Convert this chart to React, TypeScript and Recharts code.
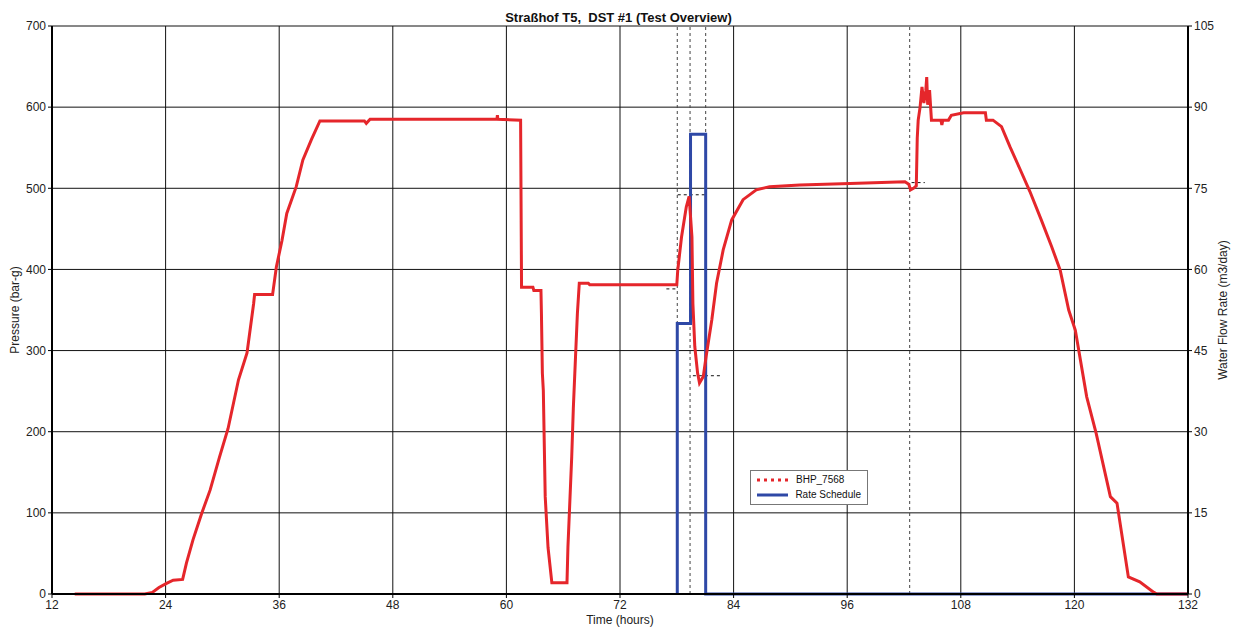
import {
  ComposedChart, Line, XAxis, YAxis, CartesianGrid, ReferenceLine, Label,
} from "recharts";

// bottom-hole pressure, [hours, bar-g]
const BHP_POINTS: [number, number][] = [
  [14.4, 0], [21.8, 0], [22.6, 2], [23.3, 8], [24.1, 13], [24.8, 17], [25.8, 18],
  [26.2, 38], [26.9, 67], [27.8, 99], [28.7, 128], [29.7, 169], [30.6, 204], [31.7, 264],
  [32.6, 297], [33.3, 358], [33.4, 369], [35.3, 369], [35.7, 403], [36.3, 436], [36.8, 469],
  [37.8, 502], [38.5, 535], [39.4, 560], [40.3, 583],
  [45, 583], [45.2, 580], [45.6, 585], [59, 585], [59.05, 590], [59.1, 585], [61.5, 584],
  [61.6, 378], [62.8, 378], [62.9, 374], [63.65, 374], [63.7, 346], [63.8, 272], [63.9, 251],
  [64.1, 120], [64.4, 57], [64.8, 14], [66.4, 14], [66.5, 58], [66.9, 169], [67.07, 229],
  [67.3, 292], [67.5, 346], [67.7, 383], [68.65, 383], [68.8, 381], [78.0, 381],
  [78.1, 399], [78.5, 440], [79.0, 477], [79.3, 490], [79.6, 440], [79.7, 358], [79.9, 305],
  [80.2, 272], [80.4, 260], [80.8, 268], [81.1, 293], [81.7, 338], [82.2, 383], [82.9, 424],
  [83.8, 461], [85.0, 486], [86.4, 498], [87.8, 502], [91, 504], [96.3, 506], [102.1, 508],
  [102.5, 505], [102.7, 498], [103.0, 500], [103.3, 503], [103.4, 562], [103.5, 584],
  [103.7, 600], [103.9, 625], [104.1, 605], [104.3, 620], [104.4, 637], [104.5, 603],
  [104.7, 621], [104.9, 584], [105.9, 584], [106.0, 578], [106.1, 584], [106.7, 584],
  [107.0, 590], [108.3, 593], [110.6, 593], [110.7, 584], [111.4, 584], [112.3, 576],
  [113.2, 551], [114.2, 525], [115.3, 496], [116.5, 461], [117.6, 428], [118.5, 399],
  [119.4, 350], [120.1, 325], [121.3, 243], [122.3, 198], [123.8, 120], [124.5, 112],
  [125.7, 21], [126.9, 15], [128.4, 2], [128.7, 0], [132, 0],
];

// water rate schedule, [hours, m3/day]
const RATE_POINTS: [number, number][] = [
  [78.05, 0], [78.05, 50], [79.45, 85], [81.05, 0], [132, 0],
];

// flow period boundaries (hours)
const PERIOD_MARKERS = [78.05, 79.4, 81.05, 102.6];

// short dashed level markers: [from h, to h, bar]
const LEVEL_MARKS: [number, number, number][] = [
  [76.9, 78.1, 376], [78.1, 81.0, 492], [79.7, 82.6, 269], [102.8, 104.2, 507],
];

const TIME_TICKS = [12, 24, 36, 48, 60, 72, 84, 96, 108, 120, 132];
const PRESSURE_TICKS = [0, 100, 200, 300, 400, 500, 600, 700];
const RATE_TICKS = [0, 15, 30, 45, 60, 75, 90, 105];

const bhpData = BHP_POINTS.map(([t, p]) => ({ t, p }));
const rateData = RATE_POINTS.map(([t, q]) => ({ t, q }));

const RED = "#e5262b";
const BLUE = "#2e48a6";
const FONT = "'Liberation Sans', Arial, sans-serif";
const tickStyle = { fontSize: 12, fill: "#222", fontFamily: FONT };

const LEGEND_ITEMS = [
  { name: "BHP_7568", color: RED, dash: "3 4" },
  { name: "Rate Schedule", color: BLUE, dash: undefined },
];

function LegendBox() {
  return (
    <div style={{
      position: "absolute", left: 750, top: 470, width: 104, height: 31,
      border: "1px solid #777", background: "#fff", padding: "1px 6px",
      fontFamily: FONT, fontSize: 10, color: "#111", whiteSpace: "nowrap",
    }}>
      {LEGEND_ITEMS.map((it) => (
        <div key={it.name} style={{ display: "flex", alignItems: "center", height: 15 }}>
          <svg width={32} height={6} style={{ marginRight: 7 }}>
            <line x1={0} y1={3} x2={32} y2={3} stroke={it.color} strokeWidth={3}
              strokeDasharray={it.dash} />
          </svg>
          {it.name}
        </div>
      ))}
    </div>
  );
}

export default function App() {
  return (
    <div style={{ position: "absolute", left: 0, top: 0, width: 1237, height: 628, background: "#fff" }}>
      <div style={{
        position: "absolute", left: 0, width: 1237, top: 10, textAlign: "center",
        fontFamily: FONT, fontWeight: "bold", fontSize: 13, color: "#111", whiteSpace: "pre",
      }}>
        {"Straßhof T5,  DST #1 (Test Overview)"}
      </div>
      <ComposedChart width={1237} height={628} margin={{ top: 26, right: 0, bottom: 0, left: 0 }}>
        <CartesianGrid yAxisId="left" stroke="#111" strokeWidth={1} />
        <XAxis
          type="number" dataKey="t" domain={[12, 132]} ticks={TIME_TICKS}
          allowDuplicatedCategory={false} height={34} tick={tickStyle} tickSize={4}
          axisLine={{ stroke: "#000", strokeWidth: 2 }} tickLine={{ stroke: "#000" }}
        >
          <Label value="Time (hours)" position="insideBottom" offset={4} style={tickStyle} />
        </XAxis>
        <YAxis
          yAxisId="left" domain={[0, 700]} ticks={PRESSURE_TICKS} width={52}
          tick={tickStyle} tickSize={4} axisLine={{ stroke: "#000", strokeWidth: 2 }}
          tickLine={{ stroke: "#000" }}
        >
          <Label value="Pressure (bar-g)" angle={-90} position="insideLeft" offset={15}
            style={{ ...tickStyle, textAnchor: "middle" }} />
        </YAxis>
        <YAxis
          yAxisId="right" orientation="right" domain={[0, 105]} ticks={RATE_TICKS} width={49}
          tick={tickStyle} tickSize={4} axisLine={{ stroke: "#000", strokeWidth: 2 }}
          tickLine={{ stroke: "#000" }}
        >
          <Label value="Water Flow Rate (m3/day)" angle={-90} position="insideRight" offset={14}
            style={{ ...tickStyle, textAnchor: "middle" }} />
        </YAxis>
        {PERIOD_MARKERS.map((x) => (
          <ReferenceLine key={"p" + x} yAxisId="left" x={x} stroke="#444" strokeDasharray="3 3" />
        ))}
        {LEVEL_MARKS.map(([a, b, y]) => (
          <ReferenceLine key={"l" + a} yAxisId="left" stroke="#111" strokeDasharray="3 3"
            segment={[{ x: a, y }, { x: b, y }]} />
        ))}
        <Line yAxisId="right" data={rateData} dataKey="q" name="Rate Schedule" type="stepAfter"
          stroke={BLUE} strokeWidth={3} dot={false} isAnimationActive={false} />
        <Line yAxisId="left" data={bhpData} dataKey="p" name="BHP_7568" type="linear"
          stroke={RED} strokeWidth={3} dot={false} isAnimationActive={false} />
      </ComposedChart>
      <LegendBox />
    </div>
  );
}
